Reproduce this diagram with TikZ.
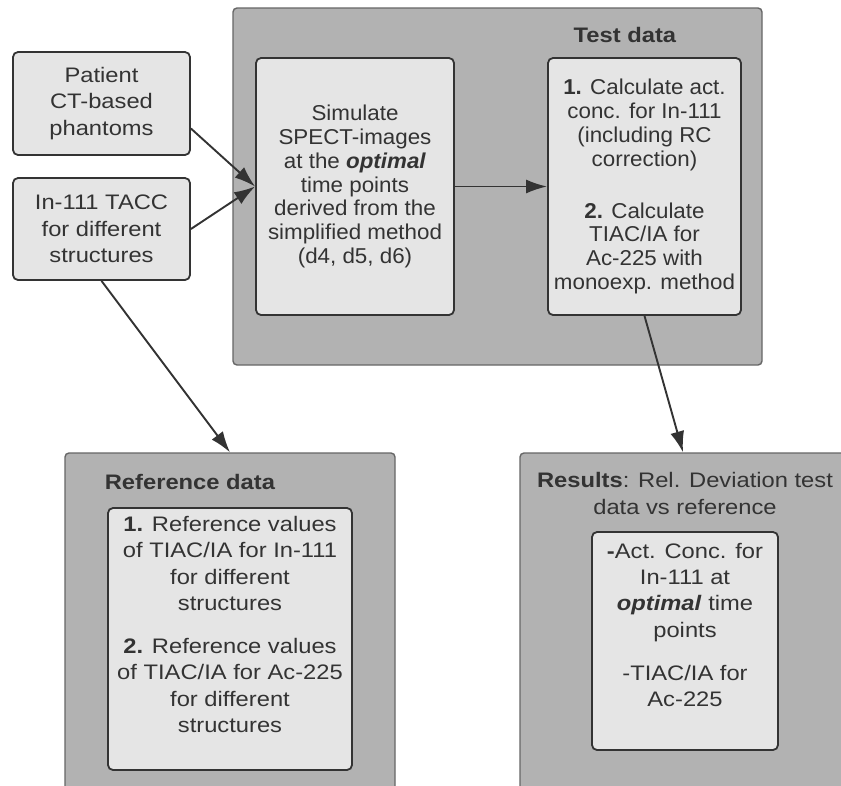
\documentclass[tikz,border=0pt]{standalone}
\usepackage{fontspec}
\setmainfont[FakeStretch=1.13]{Liberation Sans}
\newfontfamily\etroit[FakeStretch=1.04]{Liberation Sans}
\usetikzlibrary{arrows.meta}
\begin{document}
\begin{tikzpicture}[x=1pt,y=-1pt]
		% Styles
		\tikzstyle{cadre}=[draw=black!60,fill=black!30,line width=1.4pt,rounded corners=4pt,inner sep=0pt]
		\tikzstyle{boite}=[draw=black!80,fill=black!10,line width=1.8pt,rounded corners=5pt,inner sep=0pt,text=black!80,align=center,font=\fontsize{21}{26.3}\selectfont]
		\tikzstyle{serre}=[font=\etroit\fontsize{21.5}{23.9}\selectfont]
		\tikzstyle{texte}=[text=black!80,align=center,inner sep=0pt,font=\fontsize{21}{26.3}\selectfont]
		\tikzstyle{titre}=[text=black!80,align=center,inner sep=0pt,font=\fontsize{21}{27}\selectfont]
		\tikzstyle{fleche}=[-{Latex[length=21pt,width=14pt]},line width=1.9pt,draw=black!80]
		% Cadre (page)
		\clip (0,0) rectangle (841,785);
		% Cadres
		\node[cadre,minimum width=529,minimum height=357] (cadretest) at (497.5,186.5) {};
		\node[cadre,minimum width=330,minimum height=367] (cadreref) at (230,636.5) {};
		\node[cadre,minimum width=326,minimum height=367] (cadreres) at (683,636.5) {};
		\node[titre] (titretest) at (625,35) {\textbf{Test data}};
		\node[titre] (titreref) at (190,482) {\textbf{Reference data}};
		\node[titre] (titreres) at (685,493.5) {\textbf{Results}: Rel. Deviation test\\data vs reference};
		% Boites
		\node[boite,minimum width=177,minimum height=103] (patient) at (101.5,103.5) {Patient\\CT-based\\phantoms};
		\node[boite,minimum width=177,minimum height=102] (tacc) at (101.5,229) {In-111 TACC\\for different\\structures};
		\node[boite,serre,minimum width=198,minimum height=257] (simul) at (355,186.5) {Simulate\\SPECT-images\\at the \textbf{\textit{optimal}}\\time points\\derived from the\\simplified method\\(d4, d5, d6)};
		\node[boite,serre,minimum width=193,minimum height=257] (calc) at (644.5,186.5) {\textbf{1.} Calculate act.\\conc. for In-111\\(including RC\\correction)\\[28pt]\textbf{2.} Calculate\\TIAC/IA for\\Ac-225 with\\monoexp. method};
		\node[boite,minimum width=244,minimum height=262] (refval) at (230,639) {};
		\node[texte] (txtref) at (230,624.5) {\textbf{1.} Reference values\\of TIAC/IA for In-111\\for different\\structures\\[17pt]\textbf{2.} Reference values\\of TIAC/IA for Ac-225\\for different\\structures};
		\node[boite,minimum width=186,minimum height=218] (resval) at (685,641) {};
		\node[texte] (txtres) at (685,625) {\textbf{-}Act. Conc. for\\In-111 at\\\textbf{\textit{optimal}} time\\points\\[17pt]-TIAC/IA for\\Ac-225};
		% Fleches
		\draw[fleche] ([yshift=-25pt]patient.east) -- (simul.west);
		\draw[fleche] (tacc.east) -- (simul.west);
		\draw[fleche] (simul.east) -- (calc.west);
		\draw[fleche] (tacc.south) -- (cadreref.north);
		\draw[fleche] (calc.south) -- (cadreres.north);
	\end{tikzpicture}
\end{document}
